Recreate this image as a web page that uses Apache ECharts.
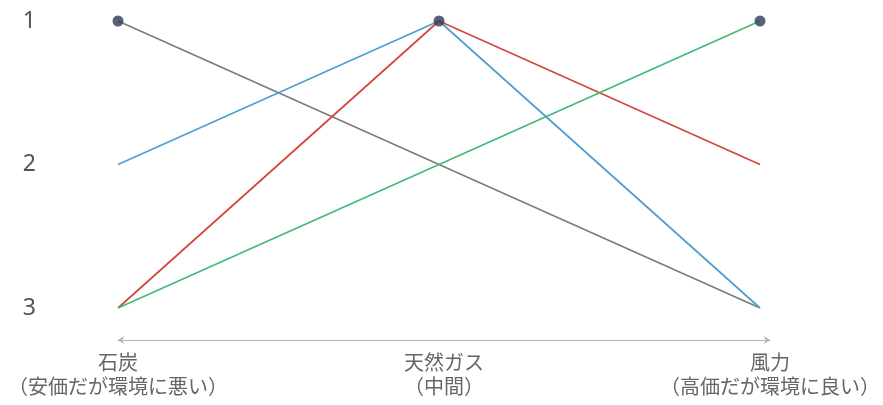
<!DOCTYPE html>
<html><head><meta charset="utf-8">
<script src="https://cdn.jsdelivr.net/npm/echarts@6/dist/echarts.min.js"></script>
<style>html,body{margin:0;padding:0;background:#fff}#c{width:883px;height:405px}</style>
</head><body><div id="c"></div>
<script>
const categories = ['石炭\n（安価だが環境に悪い）', '天然ガス\n（中間）', '風力\n（高価だが環境に良い）'];
const rankTicks = [1, 2, 3];
const grayRanks = [1, 2, 3];
const blueRanks = [2, 1, 3];
const redRanks = [3, 1, 2];
const greenRanks = [3, 2, 1];
const topMarks = [1, 1, 1];

const chart = echarts.init(document.getElementById('c'));
function line(name, data, color) {
  return { name, type: 'line', data, symbol: 'none', xAxisIndex: 0, yAxisIndex: 0,
    lineStyle: { color, width: 1.7 }, z: 2, animation: false };
}
chart.setOption({
  animation: false,
  grid: [
    { left: 118, right: 123, top: 21, bottom: 97 },
    { left: 118, right: 113, top: 21, bottom: 97 }
  ],
  xAxis: [
    { gridIndex: 0, type: 'category', data: categories, boundaryGap: false, show: false },
    {
      gridIndex: 1, type: 'category', data: categories, boundaryGap: false, offset: 32,
      axisLine: { show: true, symbol: ['arrow', 'arrow'], symbolSize: [6, 6], lineStyle: { color: '#aab4c4', width: 1.2 } },
      axisTick: { show: false },
      axisLabel: { color: '#666', fontSize: 20, lineHeight: 24, margin: 10, fontFamily: 'Noto Sans CJK JP' }
    }
  ],
  yAxis: [
    { gridIndex: 0, type: 'value', inverse: true, min: 1, max: 3, interval: 1, show: false },
    {
      gridIndex: 1, type: 'value', inverse: true, min: 1, max: 3, interval: 1,
      axisLine: { show: false }, axisTick: { show: false }, splitLine: { show: false },
      axisLabel: { color: '#555', fontSize: 23, margin: 82, fontFamily: 'Noto Sans', formatter: v => rankTicks.includes(v) ? String(v) : '' }
    }
  ],
  series: [
    line('gray', grayRanks, '#7d7d7d'),
    line('blue', blueRanks, '#4f9fd1'),
    line('red', redRanks, '#d5463f'),
    line('green', greenRanks, '#44b97a'),
    { type: 'scatter', xAxisIndex: 0, yAxisIndex: 0, data: topMarks, symbolSize: 11, itemStyle: { color: '#2e3a56' }, z: 5 }
  ]
});
</script></body></html>
